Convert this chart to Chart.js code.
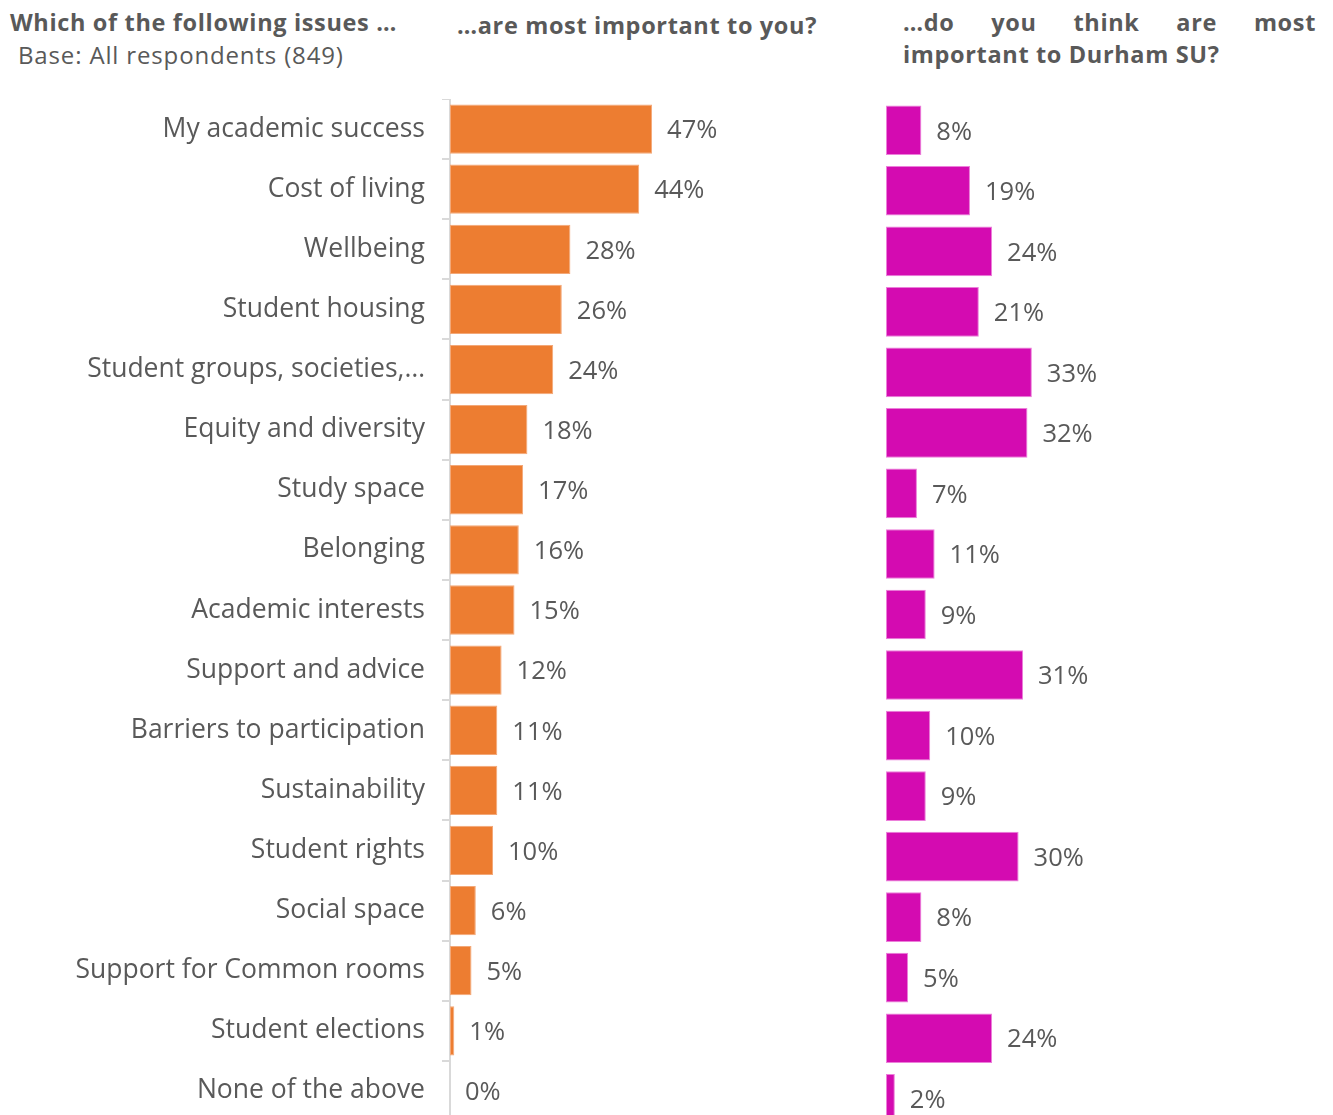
<!DOCTYPE html>
<html>
<head>
<meta charset="utf-8">
<script src="https://cdn.jsdelivr.net/npm/chart.js@4.4.1/dist/chart.umd.min.js"></script>
<style>
  html, body { margin: 0; padding: 0; background: #fff; overflow: hidden; }
  body { width: 1333px; height: 1115px; position: relative; font-family: "Open Sans", sans-serif; color: #595959; }
  .hdr { position: absolute; font-weight: 700; font-size: 23.5px; letter-spacing: 0.65px; line-height: 32px; white-space: nowrap; }
  #q-main { left: 10px; top: 6px; }
  #q-base { left: 18px; top: 39px; font-weight: 400; font-size: 24px; letter-spacing: 0.85px; }
  #q-you { left: 457px; top: 9px; }
  #q-su { left: 903px; top: 6px; width: 413px; white-space: normal; text-align: justify; }
  canvas { position: absolute; }
  #you-canvas { left: 0; top: 99px; }
  #su-canvas { left: 886px; top: 100px; }
</style>
</head>
<body>
<div class="hdr" id="q-main">Which of the following issues …</div>
<div class="hdr" id="q-base">Base: All respondents (849)</div>
<div class="hdr" id="q-you">…are most important to you?</div>
<div class="hdr" id="q-su">…do you think are most important to Durham SU?</div>
<canvas id="you-canvas" width="880" height="1022"></canvas>
<canvas id="su-canvas" width="442" height="1029"></canvas>
<script>
// Issue list, in the order shown (sorted by personal importance)
const issues = [
  'My academic success',
  'Cost of living',
  'Wellbeing',
  'Student housing',
  'Student groups, societies,…',
  'Equity and diversity',
  'Study space',
  'Belonging',
  'Academic interests',
  'Support and advice',
  'Barriers to participation',
  'Sustainability',
  'Student rights',
  'Social space',
  'Support for Common rooms',
  'Student elections',
  'None of the above',
];

// % of respondents picking each issue
const importantToYou = [47, 44, 28, 26, 24, 18, 17, 16, 15, 12, 11, 11, 10, 6, 5, 1, 0];
const importantToSU = [8, 19, 24, 21, 33, 32, 7, 11, 9, 31, 10, 9, 30, 8, 5, 24, 2];

const TEXT_GREY = '#595959';
const AXIS_GREY = '#d9d9d9';
const ORANGE = '#ED7D31';
const MAGENTA = '#D40BB1';
const FONT_FAMILY = '"Open Sans", sans-serif';
const VALUE_FONT_SIZE = 25.5;

// Draws "NN%" just past the end of every bar
const valueLabels = {
  id: 'valueLabels',
  afterDatasetsDraw(chart) {
    const { ctx } = chart;
    const ds = chart.data.datasets[0];
    const meta = chart.getDatasetMeta(0);
    ctx.save();
    ctx.font = `${VALUE_FONT_SIZE}px ${FONT_FAMILY}`;
    ctx.fillStyle = TEXT_GREY;
    ctx.textAlign = 'left';
    ctx.textBaseline = 'middle';
    meta.data.forEach((bar, i) => {
      ctx.fillText(ds.data[i] + '%', bar.x + 15, bar.y + 2);
    });
    ctx.restore();
  },
};

function barChart(canvasId, values, color, edge, showAxis) {
  return new Chart(document.getElementById(canvasId), {
    type: 'bar',
    data: {
      labels: issues,
      datasets: [{
        data: values,
        backgroundColor: color,
        borderColor: edge,
        borderWidth: 1,
        borderSkipped: false,
        barPercentage: 0.82,
        categoryPercentage: 1,
      }],
    },
    options: {
      indexAxis: 'y',
      responsive: false,
      animation: false,
      devicePixelRatio: 1,
      layout: { padding: 0 },
      plugins: { legend: { display: false }, tooltip: { enabled: false } },
      scales: {
        x: { display: false, min: 0, max: 100 },
        y: {
          display: showAxis,
          grid: { drawOnChartArea: false, drawTicks: true, tickLength: 8, color: AXIS_GREY, lineWidth: 2 },
          border: { display: true, color: AXIS_GREY, width: 2 },
          ticks: { color: TEXT_GREY, font: { family: FONT_FAMILY, size: 26.5 }, padding: 17, autoSkip: false },
          afterFit(scale) {
            if (!showAxis) return;
            // fixed label column, and let the bands run to the canvas edges
            scale.width = 450;
            scale.paddingTop = 0;
            scale.paddingBottom = 0;
          },
        },
      },
    },
    plugins: [valueLabels],
  });
}

barChart('you-canvas', importantToYou, ORANGE, '#F3A878', true);
barChart('su-canvas', importantToSU, MAGENTA, '#EC7FDA', false);
</script>
</body>
</html>
